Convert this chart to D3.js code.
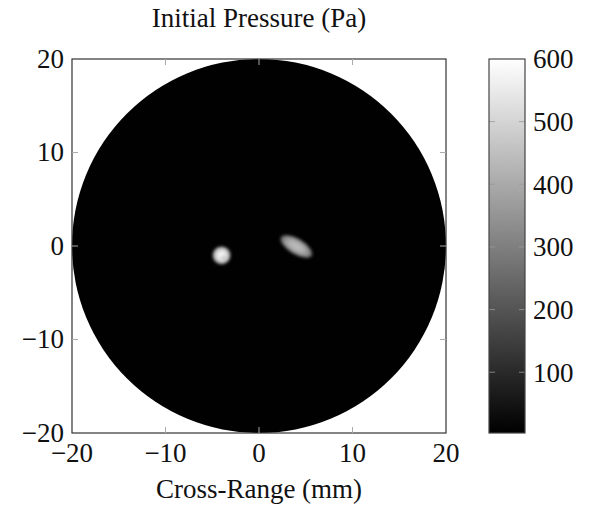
<!DOCTYPE html>
<html>
<head>
<meta charset="utf-8">
<script src="https://cdn.jsdelivr.net/npm/d3@7"></script>
<style>
  html, body { margin: 0; padding: 0; background: #fff; }
  svg text { font-family: "Liberation Serif", "DejaVu Serif", serif; fill: #111; }
</style>
</head>
<body>
<svg id="chart" width="590" height="506"></svg>
<script>
// Axis ticks (mm) and colour-bar ticks (Pa)
const axisTicks = [-20, -10, 0, 10, 20];
const colorTicks = [100, 200, 300, 400, 500, 600];
const pressureDomain = [3, 600];

// Imaging disk (mm)
const diskRadius = 20;
const ringRadius = 9;

// Inclusions: centre, semi-axes (mm), rotation (deg, clockwise on screen), peak pressure (Pa)
const incNames = ["sphere", "ellipsoid"];
const incCx = [-4.0, 4.0];
const incCy = [-1.0, -0.05];
const incRx = [0.98, 1.95];
const incRy = [0.98, 0.85];
const incAngle = [0, 31];
const incPeak = [590, 450];

const svg = d3.select("#chart");
const margin = { left: 72, top: 59, width: 374, height: 374 };

const x = d3.scaleLinear().domain([-20, 20]).range([margin.left, margin.left + margin.width]);
const y = d3.scaleLinear().domain([-20, 20]).range([margin.top + margin.height, margin.top]);
const gray = d3.scaleLinear().domain(pressureDomain).range(["#000", "#fff"]);

const defs = svg.append("defs");
defs.append("clipPath").attr("id", "plotClip")
  .append("rect").attr("x", margin.left).attr("y", margin.top)
  .attr("width", margin.width).attr("height", margin.height);
defs.append("filter").attr("id", "soft").attr("x", "-50%").attr("y", "-50%").attr("width", "200%").attr("height", "200%")
  .append("feGaussianBlur").attr("stdDeviation", 1.5);
defs.append("filter").attr("id", "haze").attr("x", "-20%").attr("y", "-20%").attr("width", "140%").attr("height", "140%")
  .append("feGaussianBlur").attr("stdDeviation", 2.5);

// Radial gradients for each inclusion, shaded from its peak pressure
incNames.forEach((name, i) => {
  const g = defs.append("radialGradient").attr("id", "grad-" + name);
  const stops = [[0, 1.0], [0.45, 0.92], [0.8, 0.72], [1, 0.35]];
  stops.forEach(([o, f]) => {
    g.append("stop").attr("offset", o).attr("stop-color", gray(Math.max(pressureDomain[0], incPeak[i] * f)));
  });
});

const plot = svg.append("g").attr("clip-path", "url(#plotClip)");

// Disk background (near-zero pressure)
plot.append("circle")
  .attr("cx", x(0)).attr("cy", y(0))
  .attr("r", x(diskRadius) - x(0))
  .attr("fill", gray(6));

// Faint reconstruction ring
plot.append("circle")
  .attr("cx", x(0)).attr("cy", y(0))
  .attr("r", x(ringRadius) - x(0))
  .attr("fill", "none")
  .attr("stroke", gray(14))
  .attr("stroke-width", 3)
  .attr("filter", "url(#haze)");

// Inclusions
plot.selectAll("ellipse.inc")
  .data(incNames.map((n, i) => ({ n, i })))
  .join("ellipse")
  .attr("class", "inc")
  .attr("cx", 0).attr("cy", 0)
  .attr("rx", d => x(incRx[d.i]) - x(0))
  .attr("ry", d => x(incRy[d.i]) - x(0))
  .attr("transform", d => `translate(${x(incCx[d.i])},${y(incCy[d.i])}) rotate(${incAngle[d.i]})`)
  .attr("fill", d => `url(#grad-${d.n})`)
  .attr("filter", "url(#soft)");

// Slight texture on the sphere
plot.append("ellipse")
  .attr("cx", x(incCx[0] + 0.25)).attr("cy", y(incCy[0] - 0.25))
  .attr("rx", 3).attr("ry", 2.2)
  .attr("fill", gray(420))
  .attr("opacity", 0.5)
  .attr("filter", "url(#soft)");

// Frame
svg.append("rect")
  .attr("x", margin.left).attr("y", margin.top)
  .attr("width", margin.width).attr("height", margin.height)
  .attr("fill", "none").attr("stroke", "#333").attr("stroke-width", 1.2);

// Inward ticks on all four sides
const tickLen = 6;
const inner = axisTicks.filter(t => t > -20 && t < 20);
const tg = svg.append("g").attr("stroke", "#aaa").attr("stroke-width", 1);
inner.forEach(t => {
  tg.append("line").attr("x1", x(t)).attr("x2", x(t)).attr("y1", y(-20)).attr("y2", y(-20) - tickLen);
  tg.append("line").attr("x1", x(t)).attr("x2", x(t)).attr("y1", y(20)).attr("y2", y(20) + tickLen);
  tg.append("line").attr("y1", y(t)).attr("y2", y(t)).attr("x1", x(-20)).attr("x2", x(-20) + tickLen);
  tg.append("line").attr("y1", y(t)).attr("y2", y(t)).attr("x1", x(20)).attr("x2", x(20) - tickLen);
});

const fmt = v => v < 0 ? "\u2212" + Math.abs(v) : String(v);
const fontSize = 27;

// X tick labels
svg.append("g").selectAll("text").data(axisTicks).join("text")
  .attr("x", d => x(d)).attr("y", y(-20) + 29)
  .attr("text-anchor", "middle").attr("font-size", fontSize)
  .text(fmt);

// Y tick labels
svg.append("g").selectAll("text").data(axisTicks).join("text")
  .attr("x", x(-20) - 8).attr("y", d => y(d))
  .attr("dy", "0.33em")
  .attr("text-anchor", "end").attr("font-size", fontSize)
  .text(fmt);

// Title and axis label
svg.append("text").attr("x", 259).attr("y", 27)
  .attr("text-anchor", "middle").attr("font-size", fontSize)
  .text("Initial Pressure (Pa)");
svg.append("text").attr("x", 259).attr("y", 498)
  .attr("text-anchor", "middle").attr("font-size", fontSize)
  .text("Cross-Range (mm)");

// Colour bar
const cb = { x: 489, w: 36 };
const cy = d3.scaleLinear().domain(pressureDomain).range([margin.top + margin.height, margin.top]);
const lg = defs.append("linearGradient").attr("id", "cbar")
  .attr("x1", 0).attr("y1", 1).attr("x2", 0).attr("y2", 0);
lg.append("stop").attr("offset", 0).attr("stop-color", gray(pressureDomain[0]));
lg.append("stop").attr("offset", 1).attr("stop-color", gray(pressureDomain[1]));

svg.append("rect")
  .attr("x", cb.x).attr("y", cy(pressureDomain[1]))
  .attr("width", cb.w).attr("height", cy(pressureDomain[0]) - cy(pressureDomain[1]))
  .attr("fill", "url(#cbar)");

const cbt = svg.append("g").attr("stroke", "#999").attr("stroke-width", 1).attr("opacity", 0.8);
colorTicks.filter(t => t < pressureDomain[1]).forEach(t => {
  cbt.append("line").attr("x1", cb.x).attr("x2", cb.x + tickLen).attr("y1", cy(t)).attr("y2", cy(t));
  cbt.append("line").attr("x1", cb.x + cb.w).attr("x2", cb.x + cb.w - tickLen).attr("y1", cy(t)).attr("y2", cy(t));
});

svg.append("rect")
  .attr("x", cb.x).attr("y", cy(pressureDomain[1]))
  .attr("width", cb.w).attr("height", cy(pressureDomain[0]) - cy(pressureDomain[1]))
  .attr("fill", "none").attr("stroke", "#444").attr("stroke-width", 1.2);

svg.append("g").selectAll("text").data(colorTicks).join("text")
  .attr("x", cb.x + cb.w + 8).attr("y", d => cy(d))
  .attr("dy", "0.35em")
  .attr("font-size", fontSize)
  .text(d => d);
</script>
</body>
</html>
